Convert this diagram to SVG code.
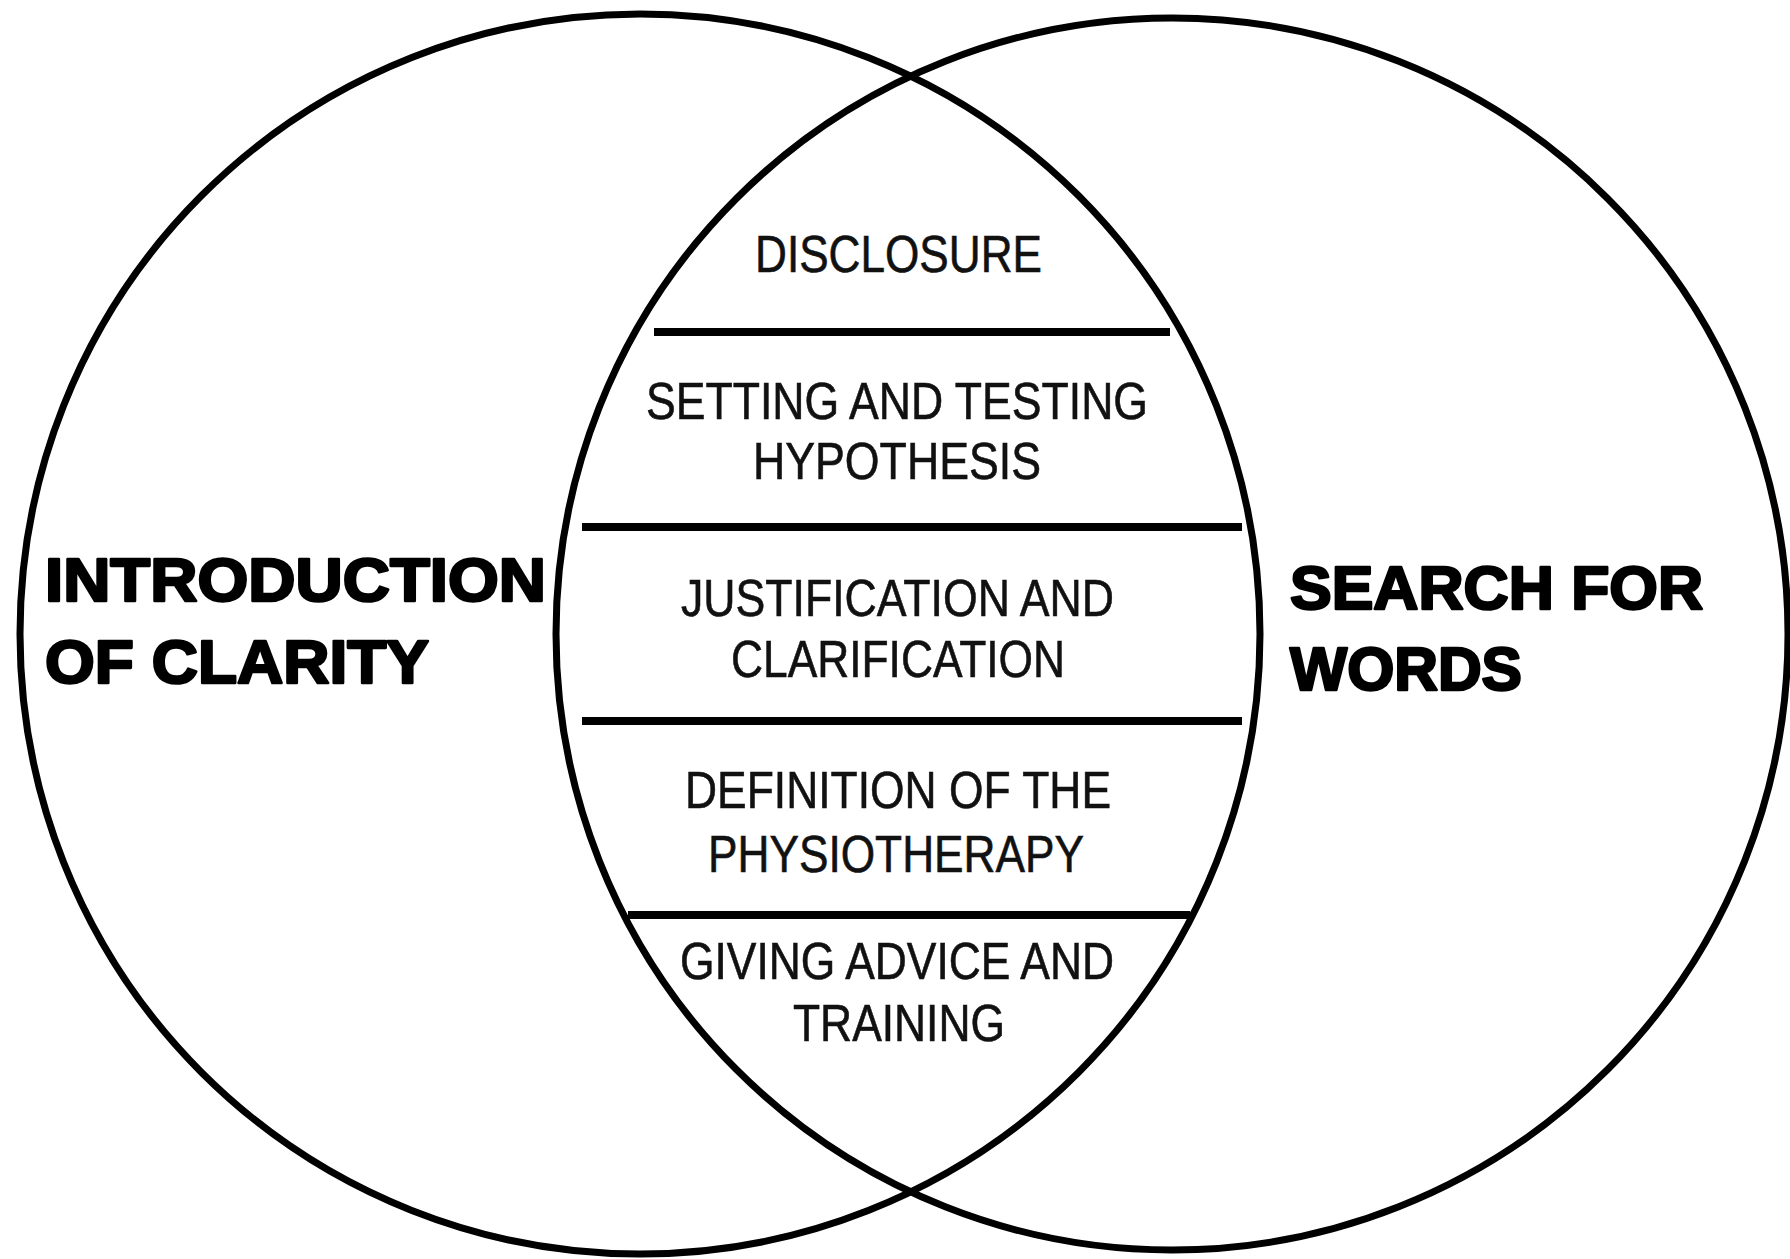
<svg xmlns="http://www.w3.org/2000/svg" width="1790" height="1259" viewBox="0 0 1790 1259">
<style>
.circ{fill:none;stroke:#000;stroke-width:7}
.div{stroke:#000;stroke-width:8;stroke-linecap:butt}
.t{font-family:"Liberation Sans",Arial,sans-serif;font-size:52px;fill:#111;stroke:#111;stroke-width:0.6}
.b{font-family:"Liberation Sans",Arial,sans-serif;font-size:62px;font-weight:bold;fill:#000;stroke:#000;stroke-width:2.6;stroke-linejoin:round}
</style>
<rect x="0" y="0" width="1790" height="1259" fill="#fff"/>
<g id="circle-left"><circle class="circ" cx="640" cy="634" r="620"/></g>
<g id="circle-right"><circle class="circ" cx="1172" cy="634" r="616"/></g>
<g id="dividers">
<line class="div" x1="654" y1="332" x2="1170" y2="332"/>
<line class="div" x1="582" y1="527" x2="1242" y2="527"/>
<line class="div" x1="582" y1="721" x2="1242" y2="721"/>
<line class="div" x1="628" y1="915" x2="1190" y2="915"/>
</g>
<g id="label-left">
<text class="b" x="45" y="601" textLength="501" lengthAdjust="spacingAndGlyphs">INTRODUCTION</text>
<text class="b" x="45" y="683" textLength="384" lengthAdjust="spacingAndGlyphs">OF CLARITY</text>
</g>
<g id="label-right">
<text class="b" x="1290" y="609" textLength="413" lengthAdjust="spacingAndGlyphs">SEARCH FOR</text>
<text class="b" x="1290" y="690" textLength="232" lengthAdjust="spacingAndGlyphs">WORDS</text>
</g>
<g id="node-disclosure">
<text class="t" x="755" y="272" textLength="287" lengthAdjust="spacingAndGlyphs">DISCLOSURE</text>
</g>
<g id="node-hypothesis">
<text class="t" x="646" y="419" textLength="502" lengthAdjust="spacingAndGlyphs">SETTING AND TESTING</text>
<text class="t" x="753" y="479" textLength="288" lengthAdjust="spacingAndGlyphs">HYPOTHESIS</text>
</g>
<g id="node-justification">
<text class="t" x="681" y="616" textLength="433" lengthAdjust="spacingAndGlyphs">JUSTIFICATION AND</text>
<text class="t" x="731" y="677" textLength="334" lengthAdjust="spacingAndGlyphs">CLARIFICATION</text>
</g>
<g id="node-definition">
<text class="t" x="685" y="808" textLength="426" lengthAdjust="spacingAndGlyphs">DEFINITION OF THE</text>
<text class="t" x="708" y="872" textLength="376" lengthAdjust="spacingAndGlyphs">PHYSIOTHERAPY</text>
</g>
<g id="node-advice">
<text class="t" x="680" y="979" textLength="434" lengthAdjust="spacingAndGlyphs">GIVING ADVICE AND</text>
<text class="t" x="793" y="1041" textLength="212" lengthAdjust="spacingAndGlyphs">TRAINING</text>
</g>
</svg>
